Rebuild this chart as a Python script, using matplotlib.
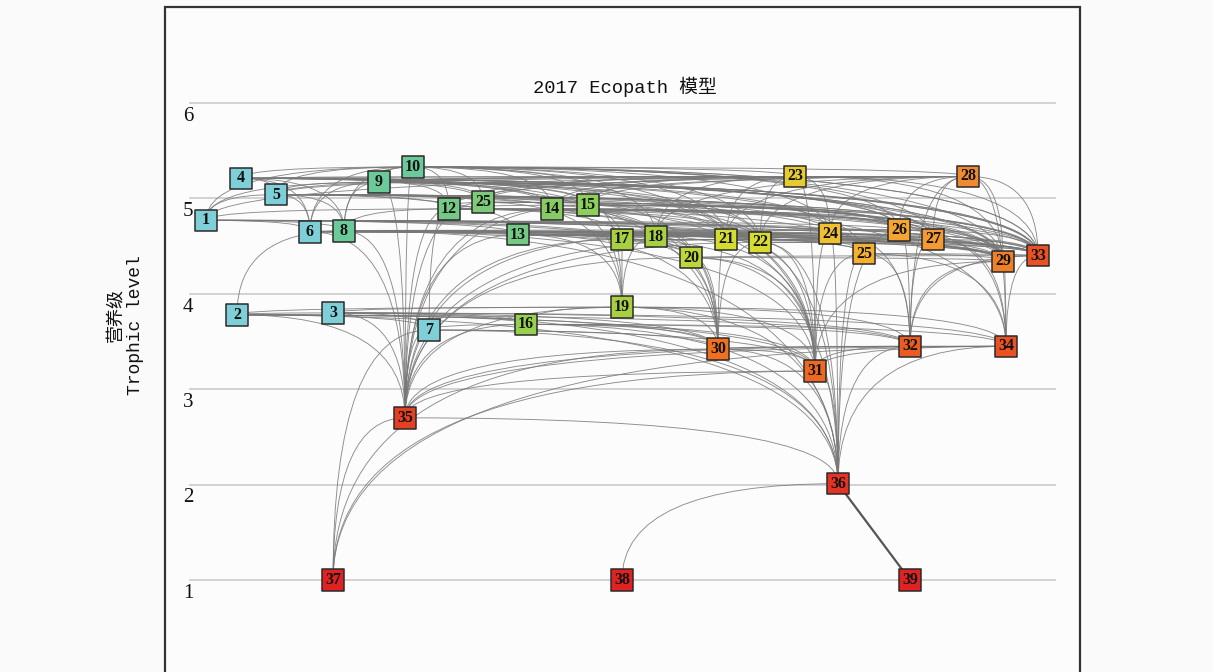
import numpy as np
import matplotlib
matplotlib.use('Agg')
import matplotlib.pyplot as plt
from matplotlib.path import Path
from matplotlib.patches import PathPatch, Rectangle

# node ids (the two "25" boxes are kept apart as 25a / 25)
ids = ['1', '2', '3', '4', '5', '6', '7', '8', '9', '10', '12', '25a', '13', '14',
       '15', '16', '17', '18', '19', '20', '21', '22', '23', '24', '25', '26', '27',
       '28', '29', '30', '31', '32', '33', '34', '35', '36', '37', '38', '39']
# horizontal layout position (pixel-like units) and trophic level
xpos = [206, 237, 333, 241, 276, 310, 429, 344, 379, 413, 449, 483, 518, 552,
        588, 526, 622, 656, 622, 691, 726, 760, 795, 830, 864, 899, 933,
        968, 1003, 718, 815, 910, 1038, 1006, 405, 838, 333, 622, 910]
tl = [4.77, 3.78, 3.80, 5.21, 5.04, 4.65, 3.62, 4.66, 5.17, 5.33, 4.89, 4.96, 4.62, 4.89,
      4.93, 3.68, 4.57, 4.60, 3.86, 4.38, 4.57, 4.54, 5.23, 4.63, 4.42, 4.67, 4.57,
      5.23, 4.34, 3.42, 3.19, 3.45, 4.40, 3.45, 2.70, 2.01, 1.0, 1.0, 1.0]
cols = ['#7ecfd8', '#7ecfd8', '#7ecfd8', '#7ecfd8', '#7ecfd8', '#7ecfd8', '#7ecfd8',
        '#6cc99a', '#6cc99a', '#6cc99a', '#74c985', '#7cca7a', '#74c985', '#86cc62',
        '#8ccf5a', '#96d050', '#a8d040', '#a8d040', '#a8d040', '#bdd838', '#d4dc30',
        '#d8dc2e', '#e6cc30', '#f0c030', '#f5b030', '#f5a530', '#f59a30', '#f08a30',
        '#f08028', '#f07020', '#ee6822', '#ec5c22', '#ea5224', '#ea5224', '#e54024',
        '#e43224', '#e02222', '#e02222', '#e02222']

# trophic links: node -> nodes it is joined to
links = {
    '33': ['1', '4', '5', '6', '8', '9', '10', '12', '25a', '13', '14', '15', '17', '18',
           '21', '22', '23', '24', '26', '27', '28', '29', '34', '32', '4', '9', '10', '5',
           '20', '25', '1', '8'],
    '29': ['1', '4', '5', '8', '9', '10', '12', '13', '14', '15', '17', '18', '20', '21',
           '22', '24', '25', '26', '27', '28', '34', '32', '31', '25a', '6', '23', '9'],
    '28': ['10', '9', '4', '5', '23', '15', '14', '26', '27', '34', '32', '24', '21', '12',
           '25a', '18', '22', '1'],
    '27': ['1', '5', '8', '9', '10', '12', '14', '15', '32', '34', '4', '13', '6', '17'],
    '26': ['4', '5', '9', '10', '12', '14', '15', '18', '32', '34', '8', '25a', '1', '13',
           '36'],
    '23': ['10', '9', '4', '5', '12', '14', '15', '22', '24', '31', '25a', '21', '18'],
    '24': ['8', '6', '1', '13', '17', '18', '31', '32', '36', '9', '10', '5'],
    '25': ['8', '13', '12', '31', '32', '34', '1', '5', '36', '9'],
    '22': ['8', '9', '10', '12', '13', '31', '30', '36', '5', '35', '4', '1'],
    '21': ['1', '5', '8', '10', '12', '13', '30', '31', '36', '4', '35', '9'],
    '20': ['8', '13', '12', '30', '31', '36', '6', '35', '1'],
    '18': ['8', '12', '13', '19', '30', '31', '5', '35', '10'],
    '17': ['1', '6', '8', '12', '13', '19', '30', '31', '35', '9'],
    '15': ['4', '5', '9', '10', '19', '30', '31', '34', '35', '12'],
    '14': ['5', '9', '10', '19', '30', '35', '31', '4', '12'],
    '13': ['1', '6', '8', '19', '35', '30', '5'],
    '25a': ['5', '9', '10', '35', '19', '4', '12'],
    '12': ['1', '5', '9', '10', '35', '7', '8'],
    '10': ['4', '5', '9', '1', '6', '8', '35', '31'],
    '9': ['4', '5', '1', '6', '8', '35', '30'],
    '8': ['1', '5', '6', '2', '35', '4', '31', '36'],
    '6': ['1', '5', '4', '35'],
    '5': ['1', '4'],
    '2': ['3', '7', '16', '35', '19', '30', '31', '32', '36'],
    '3': ['7', '16', '19', '35', '30', '34', '32', '36'],
    '7': ['16', '35', '30', '31', '37', '36'],
    '16': ['35', '19', '30', '31', '32', '34', '36'],
    '19': ['35', '30', '31', '32', '36', '34'],
    '30': ['35', '31', '32', '34', '36', '37'],
    '31': ['35', '32', '34', '36', '37'],
    '32': ['34', '36', '35'],
    '34': ['36', '35', '37'],
    '35': ['36', '37'],
    '36': ['38'],
}
strong_links = [('36', '39')]

title = '2017 Ecopath 模型'
ylab_cn = '营养级'
ylab_en = 'Trophic level'
levels = [1, 2, 3, 4, 5, 6]

# pixel -> data mapping: 95.4 px per trophic level, level 6 at y=103
px_per = 95.4
ylo = 6 - (672 - 103) / px_per
yhi = 6 + 103 / px_per

fig = plt.figure(figsize=(12.13, 6.72), dpi=100)
fig.patch.set_facecolor('#fafafa')
ax = fig.add_axes([0, 0, 1, 1])
ax.set_xlim(0, 1213)
ax.set_ylim(ylo, yhi)
ax.axis('off')

# frame
ax.add_patch(Rectangle((165, ylo - 1), 915, (6 + (103 - 7) / px_per) - ylo + 1,
                       fill=True, facecolor='#fcfcfc', edgecolor='#333333', lw=1.6, zorder=0))

for lv in levels:
    ax.plot([190, 1055], [lv, lv], color='#cfcfcf', lw=1.3, zorder=1)
    ax.text(183, lv - 0.04, str(lv), ha='left', va='top', fontsize=15,
            family='Liberation Serif', color='#111111')

pos = {k: (x, y) for k, x, y in zip(ids, xpos, tl)}


def draw_link(a, b, lw=0.65, color='#787878'):
    (x1, y1), (x2, y2) = pos[a], pos[b]
    if y1 < y2:
        (x1, y1), (x2, y2) = (x2, y2), (x1, y1)
    # upper node (x1,y1), lower node (x2,y2); bend toward (x_low, y_high)
    verts = [(x1, y1), (x2, y1), (x2, y2)]
    p = Path(verts, [Path.MOVETO, Path.CURVE3, Path.CURVE3])
    ax.add_patch(PathPatch(p, fill=False, lw=lw, edgecolor=color, alpha=0.85, zorder=2))


for a, targets in links.items():
    for b in targets:
        draw_link(a, b)
for a, b in strong_links:
    ax.plot([pos[a][0], pos[b][0]], [pos[a][1], pos[b][1]], color='#555555', lw=1.6, zorder=2)

ax.scatter(xpos, tl, marker='s', s=240, c=cols, edgecolors='#2a2a2a', linewidths=1.1, zorder=3)
for k, x, y in zip(ids, xpos, tl):
    ax.text(x, y, k.rstrip('a'), ha='center', va='center', fontsize=11.5, fontweight='bold',
            family='Liberation Serif', color='#111111', zorder=4)

ax.text(625, 6 + (103 - 87) / px_per, title, ha='center', va='center', fontsize=13.5,
        family=['Liberation Mono', 'Noto Sans CJK SC'], color='#111111')
ax.text(115, 6 - (315 - 103) / px_per, ylab_cn, ha='center', va='center', rotation=90,
        fontsize=13, family=['Noto Sans CJK SC'], color='#111111')
ax.text(135, 6 - (325 - 103) / px_per, ylab_en, ha='center', va='center', rotation=90,
        fontsize=13, family=['Liberation Mono'], color='#111111')

fig.savefig('out.png', dpi=100, facecolor=fig.get_facecolor())
